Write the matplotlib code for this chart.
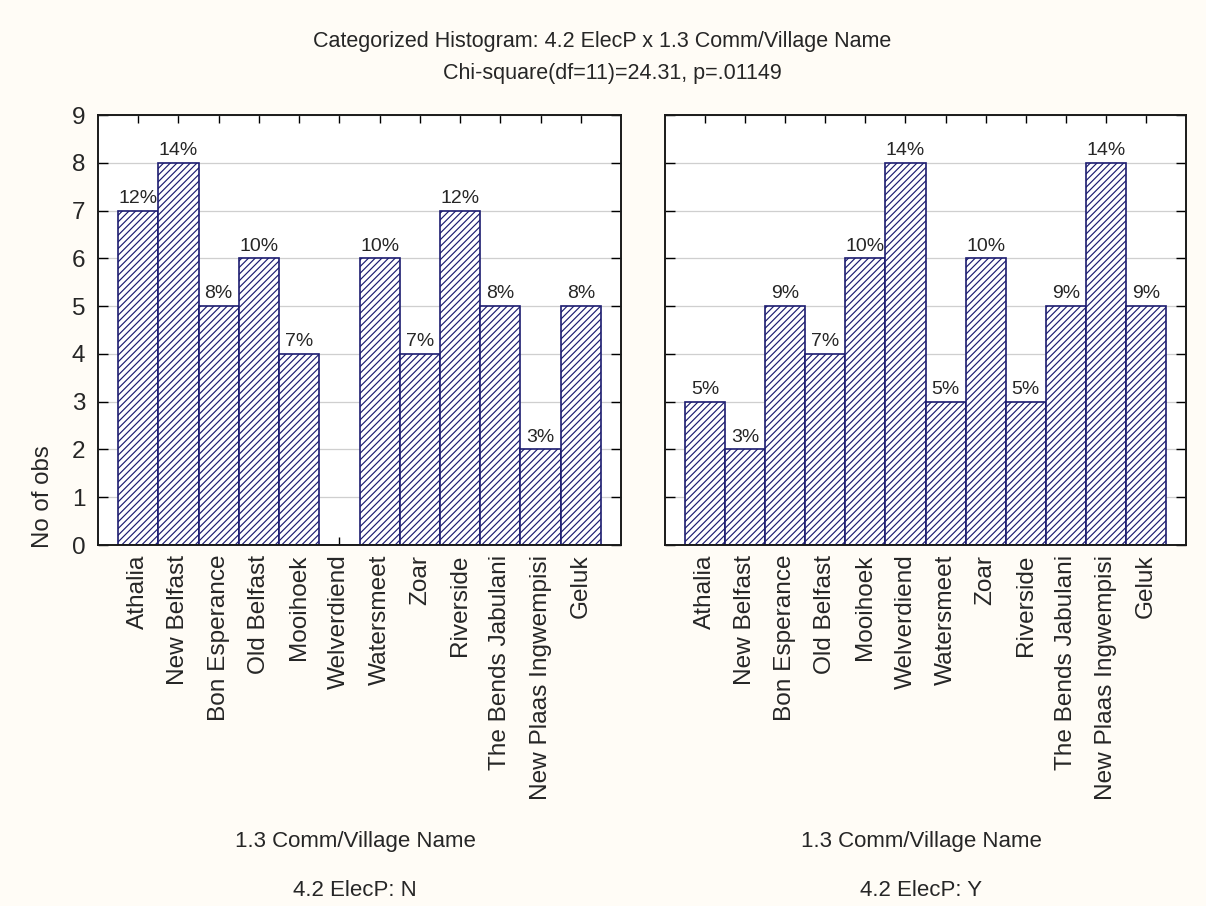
import matplotlib.pyplot as plt
import numpy as np

plt.rcParams['font.family'] = ['Liberation Sans', 'DejaVu Sans']
plt.rcParams['hatch.linewidth'] = 0.85

villages = ['Athalia', 'New Belfast', 'Bon Esperance', 'Old Belfast',
            'Mooihoek', 'Welverdiend', 'Watersmeet', 'Zoar', 'Riverside',
            'The Bends Jabulani', 'New Plaas Ingwempisi', 'Geluk']
counts_n = [7, 8, 5, 6, 4, 0, 6, 4, 7, 5, 2, 5]
counts_y = [3, 2, 5, 4, 6, 8, 3, 6, 3, 5, 8, 5]
panel_labels = ['4.2 ElecP: N', '4.2 ElecP: Y']

title_1 = 'Categorized Histogram: 4.2 ElecP x 1.3 Comm/Village Name'
title_2 = 'Chi-square(df=11)=24.31, p=.01149'

bar_color = '#1c1c70'
text_color = '#262626'
W, H = 1206, 906

fig = plt.figure(figsize=(W / 100, H / 100), dpi=100, facecolor='#fffcf6')


def px_rect(x0, y0, x1, y1):
    return [x0 / W, 1 - y1 / H, (x1 - x0) / W, (y1 - y0) / H]


def draw_panel(ax, counts, show_ylabels):
    counts = np.asarray(counts)
    x = np.arange(len(counts))
    ax.set_axisbelow(True)
    ax.yaxis.grid(True, color='#cfcfcf', linewidth=0.9)
    ax.bar(x, counts, width=1.0, color='white', edgecolor=bar_color,
           linewidth=1.2, hatch='/////')
    total = counts.sum()
    for xi, c in zip(x, counts):
        if c > 0:
            ax.text(xi, c + 0.08, f'{int(round(100 * c / total))}%',
                    ha='center', va='bottom', fontsize=14, color=text_color)
    ax.set_xlim(-1, len(counts))
    ax.set_ylim(0, 9)
    ax.set_yticks(range(10))
    ax.set_xticks(x)
    ax.set_xticklabels(villages, rotation=90, fontsize=17.6, color=text_color)
    ax.tick_params(axis='x', direction='in', top=True, bottom=True,
                   length=6, width=1, pad=7)
    ax.tick_params(axis='y', direction='in', left=True, right=True,
                   length=7, width=1, pad=9, labelsize=17.5,
                   labelcolor=text_color, labelleft=show_ylabels)
    for s in ax.spines.values():
        s.set_linewidth(1.4)
        s.set_color('#1a1a1a')


ax_n = fig.add_axes(px_rect(98, 115, 621, 545))
ax_y = fig.add_axes(px_rect(665, 115, 1186, 545))
draw_panel(ax_n, counts_n, True)
draw_panel(ax_y, counts_y, False)

fig.text(43 / W, 1 - 497 / H, 'No of obs', rotation=90, ha='center',
         va='center', fontsize=17.3, color=text_color)

fig.text(602 / W, 1 - 42 / H, title_1, ha='center', va='center',
         fontsize=15.5, color=text_color)
fig.text(612 / W, 1 - 73 / H, title_2, ha='center', va='center',
         fontsize=15.5, color=text_color)

for cx, lab in zip([355, 921], panel_labels):
    fig.text(cx / W, 1 - 842 / H, '1.3 Comm/Village Name', ha='center',
             va='center', fontsize=16, color=text_color)
    fig.text(cx / W, 1 - 890 / H, lab, ha='center', va='center',
             fontsize=16, color=text_color)

fig.savefig('out.png', dpi=100, facecolor=fig.get_facecolor())
